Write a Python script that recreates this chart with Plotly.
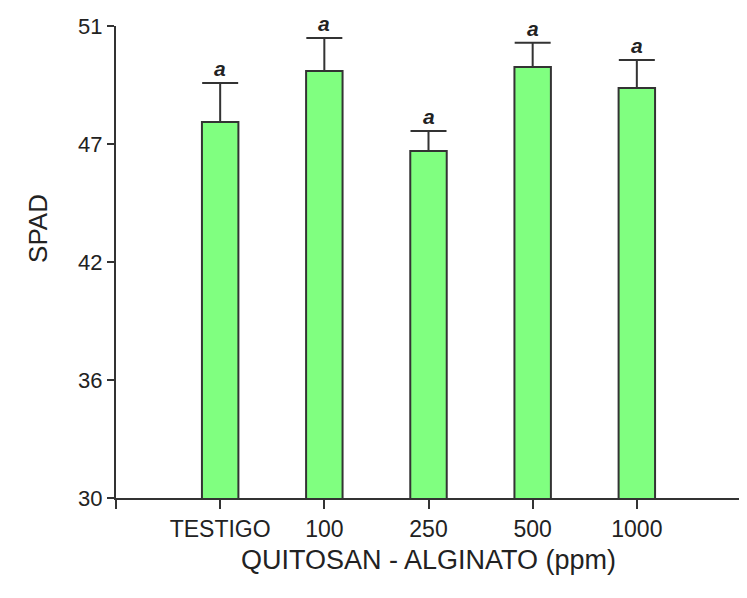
import plotly.graph_objects as go

categories = ["TESTIGO", "100", "250", "500", "1000"]
spad = [46.73, 49.00, 45.44, 49.18, 48.24]
err = [1.73, 1.47, 0.89, 1.07, 1.25]
letters = ["a", "a", "a", "a", "a"]
ytick_vals = [30, 35.25, 40.5, 45.75, 51]
ytick_text = ["30", "36", "42", "47", "51"]

xpos = list(range(1, len(categories) + 1))
dark = "#333333"
font = "Liberation Sans, Arial, sans-serif"

fig = go.Figure()
fig.add_trace(go.Bar(
    x=xpos, y=spad, width=0.35,
    marker=dict(color="#80FF80", line=dict(color=dark, width=2)),
    error_y=dict(type="data", array=err, arrayminus=[0]*len(err), symmetric=False,
                 color=dark, thickness=2, width=18),
    showlegend=False,
))
for xp, v, e, t in zip(xpos, spad, err, letters):
    fig.add_annotation(x=xp, y=v + e, text=f"<b><i>{t}</i></b>", showarrow=False,
                       yanchor="bottom", yshift=2, borderpad=0,
                       font=dict(family=font, size=21, color="#222222"))

fig.add_annotation(xref="paper", yref="paper", x=-0.125, y=0.572, text="SPAD",
                   textangle=-90, showarrow=False, xanchor="center", yanchor="middle",
                   font=dict(family=font, size=26, color="#222222"))

# page body has an 8px default margin: compensate in figure size/margins
fig.update_layout(
    width=739, height=590,
    margin=dict(l=108, r=6, t=18, b=100),
    plot_bgcolor="white", paper_bgcolor="white",
    font=dict(family=font, color="#222222"),
)
fig.update_xaxes(
    range=[0, 6], tickvals=[0] + xpos + [6], ticktext=[""] + categories + [""],
    showline=True, linecolor=dark, linewidth=2, ticks="outside", ticklen=9,
    tickwidth=2, tickcolor=dark, showgrid=False, zeroline=False,
    tickfont=dict(size=23), title=dict(text="QUITOSAN - ALGINATO (ppm)", font=dict(size=27), standoff=10),
)
fig.update_yaxes(
    range=[30, 51], tickvals=ytick_vals, ticktext=ytick_text,
    showline=True, linecolor=dark, linewidth=2, ticks="outside", ticklen=7,
    tickwidth=2, tickcolor=dark, showgrid=False, zeroline=False,
    tickfont=dict(size=22),
)

fig.write_html("out.html")
